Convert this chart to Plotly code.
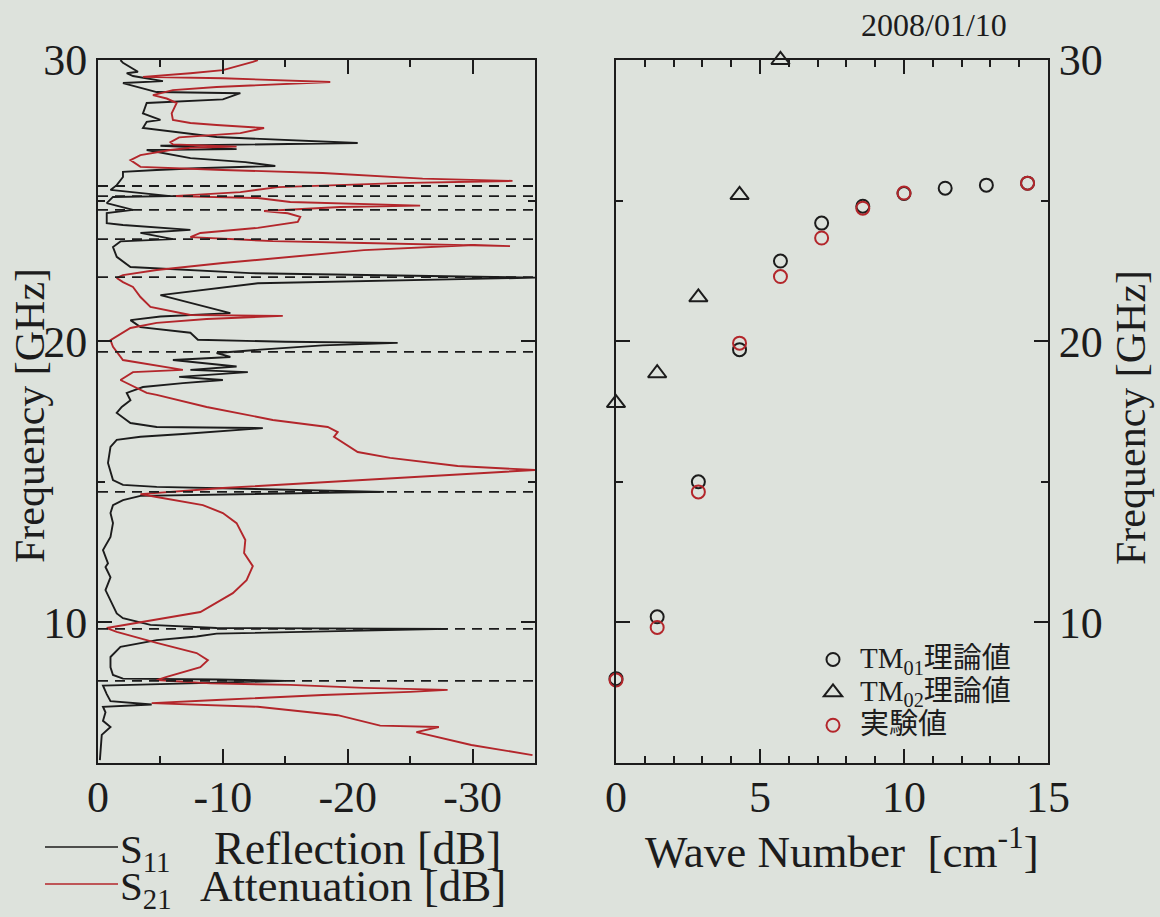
import plotly.graph_objects as go

# ---------------- data ----------------
# S11 (reflection) trace: dB values vs frequency (GHz)
s11_db = [-0.15, -0.3, -1.0, -0.4, -0.6, -0.4, -4.3, -1.0, -0.7, -0.4, -15.0, -9.6, -2.0, -1.2, -1.0, -1.0,
          -1.8, -4.7, -7.9, -9.5, -28.0, -9.5, -4.2, -2.0, -1.5, -1.0, -0.6, -1.0, -0.6, -0.8, -0.4, -1.0,
          -1.2, -1.0, -1.2, -2.0, -3.4, -22.9, -4.7, -2.0, -1.2, -0.8, -1.0, -1.5, -3.4, -6.8, -13.2, -4.7,
          -2.6, -1.5, -1.9, -2.6, -2.3, -3.6, -6.8, -10.0, -6.5, -12.0, -7.4, -11.1, -7.4, -6.0, -10.6, -9.5,
          -13.0, -18.0, -24.0, -15.0, -8.0, -7.4, -3.4, -2.6, -5.0, -10.6, -5.0, -10.0, -12.8, -35.0, -12.2,
          -2.6, -1.5, -1.2, -1.8, -6.0, -3.4, -7.4, -2.0, -0.7, -0.7, -2.8, -0.7, -1.2, -5.8, -1.0, -1.5,
          -2.0, -2.0, -4.7, -7.9, -14.2, -11.8, -7.4, -3.9, -11.1, -5.0, -20.8, -9.5, -3.6, -3.9, -5.0,
          -3.6, -3.9, -10.0, -11.4, -4.7, -2.0, -3.4, -5.2, -2.8, -2.3, -3.2, -2.0, -1.8]
s11_freq = [5.1, 6.0, 6.28, 6.5, 6.8, 7.0, 7.08, 7.2, 7.45, 7.75, 7.92, 7.97, 8.0, 8.13, 8.4, 8.77,
            9.13, 9.37, 9.5, 9.6, 9.77, 9.8, 9.91, 10.15, 10.32, 10.8, 11.15, 11.6, 11.97, 12.1, 12.57, 13.04,
            13.53, 13.89, 14.17, 14.35, 14.5, 14.64, 14.82, 14.89, 15.06, 15.67, 16.24, 16.49, 16.6, 16.7, 16.91, 16.95,
            17.09, 17.45, 17.66, 17.9, 18.16, 18.37, 18.51, 18.62, 18.73, 18.9, 18.98, 19.1, 19.26, 19.33, 19.44, 19.58,
            19.70, 19.85, 19.94, 19.98, 20.05, 20.3, 20.5, 20.75, 20.88, 21.0, 21.64, 21.9, 22.06, 22.26, 22.42,
            22.64, 23.0, 23.35, 23.55, 23.63, 23.85, 23.96, 24.13, 24.2, 24.56, 24.67, 24.91, 25.13, 25.16, 25.38, 25.55,
            25.84, 26.02, 26.09, 26.15, 26.23, 26.37, 26.51, 26.8, 26.83, 26.95, 27.05, 27.26, 27.58, 27.8, 27.87,
            28.1, 28.47, 28.6, 28.82, 28.86, 29.18, 29.22, 29.25, 29.43, 29.53, 29.58, 29.9, 30.0]

# S21 (attenuation) trace
s21_db = [-34.8, -29.9, -25.5, -27.3, -22.6, -19.2, -12.8, -6.3, -4.3, -9.5, -18.0, -25.0, -28.0, -21.3, -15.4,
          -9.0, -4.7, -5.5, -8.2, -8.8, -7.9, -4.7, -1.5, -0.7, -4.7, -8.2, -10.8, -11.9, -12.4, -11.7, -11.8,
          -11.1, -10.0, -8.4, -4.7, -3.4, -10.0, -18.0, -26.0, -31.5, -35.0, -28.8, -23.4, -20.8, -18.9, -19.2,
          -18.4, -14.0, -8.7, -4.7, -3.9, -1.8, -2.8, -6.8, -2.0, -1.2, -1.0, -2.6, -4.7, -8.7, -14.8, -7.4,
          -4.2, -3.4, -2.8, -2.0, -1.5, -2.0, -4.7, -10.0, -15.4, -21.3, -30.1, -33.0, -21.3, -14.0, -7.4, -8.2,
          -12.8, -16.0, -16.2, -15.2, -13.3, -19.4, -25.8, -15.4, -12.8, -6.0, -11.4, -14.4, -24.0, -33.2, -26.0,
          -18.0, -10.0, -3.4, -2.6, -3.4, -5.8, -7.4, -11.1, -6.0, -5.8, -6.5, -11.4, -13.3, -9.5, -7.4, -6.0,
          -5.9, -6.3, -5.5, -4.4, -6.0, -9.5, -18.6, -10.0, -3.6, -7.4, -10.0, -12.4, -12.8]
s21_freq = [5.28, 5.64, 6.10, 6.28, 6.33, 6.7, 7.0, 7.1, 7.13, 7.24, 7.42, 7.53, 7.60, 7.67, 7.78,
            7.83, 7.95, 8.06, 8.41, 8.66, 8.91, 9.27, 9.66, 9.80, 10.09, 10.37, 11.04, 11.5, 12.0, 12.47, 12.93,
            13.53, 13.89, 14.17, 14.46, 14.56, 14.78, 14.99, 15.2, 15.35, 15.42, 15.56, 15.85, 16.06, 16.6, 16.77,
            16.95, 17.2, 17.66, 18.09, 18.16, 18.62, 18.9, 18.98, 19.33, 19.8, 20.04, 20.47, 20.65, 20.79, 20.9, 20.93,
            21.22, 21.57, 21.93, 22.1, 22.25, 22.35, 22.53, 22.78, 23.0, 23.24, 23.42, 23.38, 23.49, 23.56, 23.70, 23.85,
            24.03, 24.24, 24.42, 24.55, 24.63, 24.77, 24.82, 24.95, 25.09, 25.16, 25.30, 25.48, 25.62, 25.70, 25.78,
            25.98, 26.09, 26.20, 26.44, 26.62, 26.80, 26.88, 26.92, 27.0, 27.08, 27.25, 27.40, 27.58, 27.69, 27.76, 27.87,
            28.10, 28.47, 28.63, 28.75, 28.93, 29.04, 29.22, 29.35, 29.40, 29.53, 29.64, 29.93, 30.0]

# resonance frequencies marked with dashed lines (GHz)
resonance_freq = [7.92, 9.77, 14.64, 19.62, 22.28, 23.63, 24.67, 25.16, 25.52]

# dispersion: wave number (cm^-1) vs frequency (GHz)
tm01_k = [0.0, 1.43, 2.86, 4.29, 5.71, 7.14, 8.57, 10.0, 11.43, 12.86, 14.29]
tm01_f = [8.0, 10.2, 15.0, 19.7, 22.85, 24.2, 24.8, 25.25, 25.44, 25.55, 25.62]
tm02_k = [0.0, 1.43, 2.86, 4.29, 5.71]
tm02_f = [17.8, 18.86, 21.56, 25.2, 30.0]
exp_k = [0.0, 1.43, 2.86, 4.29, 5.71, 7.14, 8.57, 10.0, 14.29]
exp_f = [7.95, 9.82, 14.64, 19.93, 22.3, 23.67, 24.73, 25.27, 25.62]

left_ticks = [0, -10, -20, -30]
left_ticktext = ["0", "-10", "-20", "-30"]

# ---------------- style ----------------
BG = "#dde2dc"
INK = "#1c1c1c"
RED = "#b3262b"
SERIF = "Liberation Serif, Times New Roman, serif"
CJK = "Liberation Serif, Noto Sans CJK JP, serif"
W, H = 1160, 917

def px(x):
    return x / W

def py(y):
    return 1 - y / H

def big(text):
    return '<span style="font-size:29px">' + text + '</span>'

fig = go.Figure()

fig.add_trace(go.Scatter(x=s11_db, y=s11_freq, mode="lines", line=dict(color=INK, width=1.9),
                         xaxis="x", yaxis="y", showlegend=False, name="S11"))
fig.add_trace(go.Scatter(x=s21_db, y=s21_freq, mode="lines", line=dict(color=RED, width=1.9),
                         xaxis="x", yaxis="y", showlegend=False, name="S21"))

fig.add_trace(go.Scatter(x=tm01_k, y=tm01_f, mode="markers", xaxis="x2", yaxis="y2", cliponaxis=False,
                         name=big("TM<sub>01</sub>理論値"),
                         marker=dict(symbol="circle-open", size=13, color=INK, line=dict(width=2))))
fig.add_trace(go.Scatter(x=tm02_k, y=tm02_f, mode="markers", xaxis="x2", yaxis="y2", cliponaxis=False,
                         name=big("TM<sub>02</sub>理論値"),
                         marker=dict(symbol="triangle-up-open", size=16, color=INK, line=dict(width=2))))
fig.add_trace(go.Scatter(x=exp_k, y=exp_f, mode="markers", xaxis="x2", yaxis="y2", cliponaxis=False,
                         name=big("実験値"),
                         marker=dict(symbol="circle-open", size=13, color=RED, line=dict(width=2))))

shapes = []
for f in resonance_freq:
    shapes.append(dict(type="line", xref="x domain", yref="y", x0=0, x1=1, y0=f, y1=f,
                       line=dict(color=INK, width=1.8, dash="10px,7px"), layer="above"))
# legend swatches beneath left panel
shapes.append(dict(type="line", xref="paper", yref="paper", x0=px(45), x1=px(118), y0=py(847), y1=py(847),
                   line=dict(color=INK, width=1.5)))
shapes.append(dict(type="line", xref="paper", yref="paper", x0=px(45), x1=px(118), y0=py(884), y1=py(884),
                   line=dict(color=RED, width=1.5)))

axis_common = dict(showline=True, linecolor=INK, linewidth=2, mirror="ticks", ticks="inside",
                   tickcolor=INK, tickwidth=2, showgrid=False, zeroline=False, automargin=False,
                   tickfont=dict(family=SERIF, size=44, color=INK))


def label(text, x, y, size, xanchor="center", angle=0):
    return dict(text=text, x=px(x), y=py(y), xref="paper", yref="paper", xanchor=xanchor,
                yanchor="middle", textangle=angle, showarrow=False,
                font=dict(family=SERIF, size=size, color=INK))


annotations = [
    label("Frequency [GHz]", 30, 416, 42, angle=-90),
    label("Frequency [GHz]", 1131, 418, 42, angle=-90),
    label("Wave Number  [cm<sup>-1</sup>]", 842, 848, 45),
    label("2008/01/10", 934, 25, 32),
    label("S<sub>11</sub>", 118, 852, 41, xanchor="left"),
    label("Reflection [dB]", 212, 848, 46, xanchor="left"),
    label("S<sub>21</sub>", 118, 889, 41, xanchor="left"),
    label("Attenuation [dB]", 198, 886, 45, xanchor="left"),
]

fig.update_layout(
    width=W, height=H,
    margin=dict(l=0, r=0, t=0, b=0, autoexpand=False),
    paper_bgcolor=BG, plot_bgcolor=BG,
    xaxis=dict(domain=[px(98), px(535)], range=[0, -35], anchor="y",
               tickmode="array", tickvals=left_ticks, ticktext=left_ticktext, ticklen=14,
               ticklabelstandoff=-6,
               minor=dict(tickmode="array", tickvals=[-5, -15, -25], ticks="inside", ticklen=7,
                          tickcolor=INK, tickwidth=2),
               **axis_common),
    yaxis=dict(domain=[py(763), py(60)], range=[5, 30], anchor="x", dtick=10, tick0=0, ticklen=14,
               minor=dict(dtick=5, tick0=0, ticks="inside", ticklen=7, tickcolor=INK, tickwidth=2),
               **axis_common),
    xaxis2=dict(domain=[px(616), px(1048)], range=[0, 15], anchor="y2", dtick=5, tick0=0, ticklen=14,
                ticklabelstandoff=-6,
                minor=dict(dtick=1, tick0=0, ticks="inside", ticklen=7, tickcolor=INK, tickwidth=2),
                **axis_common),
    yaxis2=dict(domain=[py(763), py(60)], range=[5, 30], anchor="x2", side="right", dtick=10, tick0=0,
                ticklen=14,
                minor=dict(dtick=5, tick0=0, ticks="inside", ticklen=7, tickcolor=INK, tickwidth=2),
                **axis_common),
    legend=dict(x=px(806), y=py(638), xanchor="left", yanchor="top", bgcolor="rgba(0,0,0,0)",
                font=dict(family=CJK, size=23, color=INK), tracegroupgap=0, itemwidth=44),
    shapes=shapes,
    annotations=annotations,
    showlegend=True,
)

fig.write_html("out.html")
